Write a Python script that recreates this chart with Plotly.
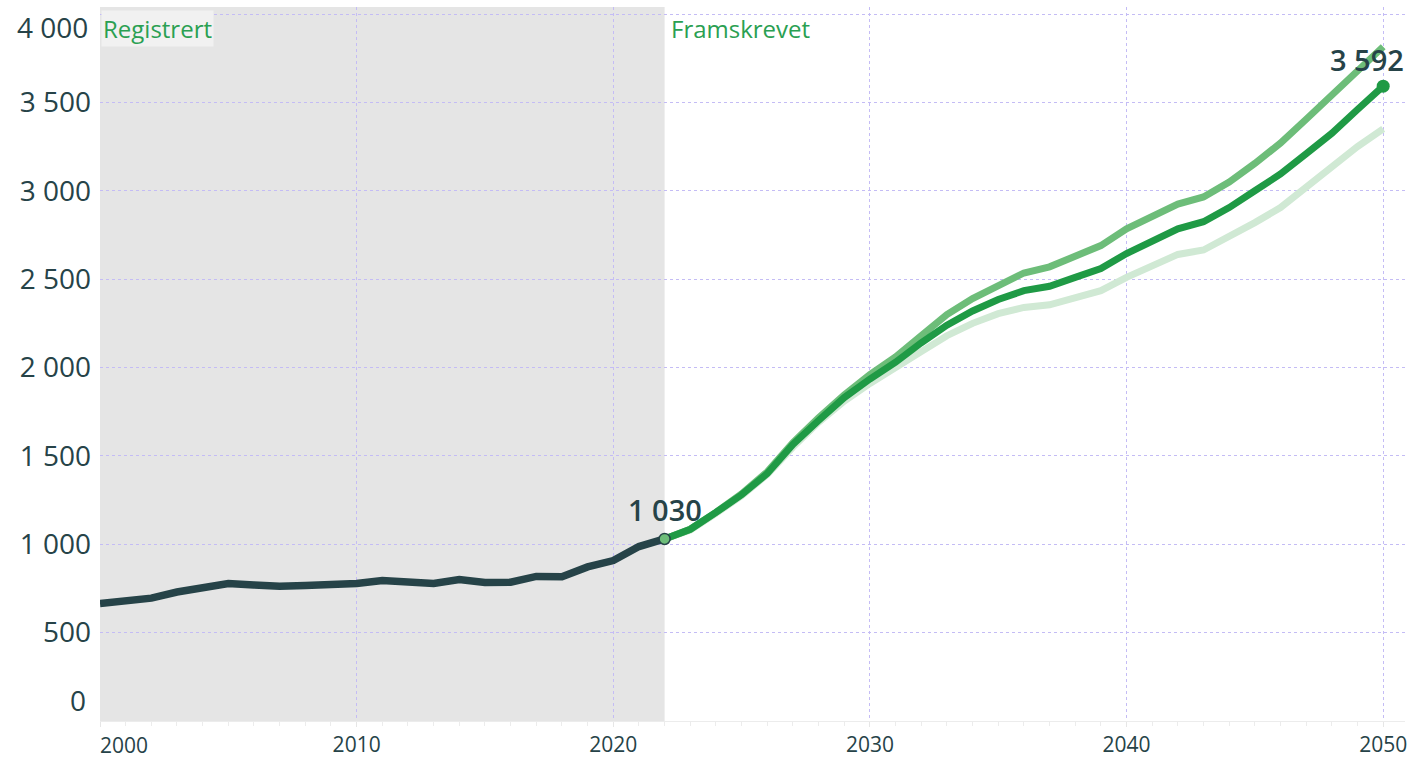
import plotly.graph_objects as go

# ---- data ----
hist_years = list(range(2000, 2023))
hist_values = [665, 685, 695, 730, 752, 778, 770, 762, 766, 770, 778, 795, 790, 778,
               800, 784, 785, 818, 816, 872, 908, 987, 1030]

proj_years = list(range(2022, 2051))
main_values = [1030, 1085, 1180, 1280, 1400, 1565, 1700, 1830, 1935, 2030, 2140, 2240,
               2320, 2385, 2435, 2460, 2510, 2560, 2645, 2720, 2785, 2825, 2905, 3000,
               3095, 3210, 3325, 3460, 3592]
high_values = [1030, 1085, 1180, 1285, 1410, 1575, 1715, 1845, 1960, 2060, 2180, 2300,
               2390, 2465, 2535, 2570, 2625, 2690, 2785, 2860, 2925, 2965, 3050, 3155,
               3270, 3405, 3545, 3685, 3815]
low_values = [1030, 1080, 1175, 1275, 1395, 1550, 1690, 1810, 1910, 1995, 2090, 2180,
              2250, 2305, 2340, 2355, 2395, 2435, 2510, 2580, 2640, 2665, 2740, 2820,
              2905, 3020, 3145, 3250, 3350]

x_ticks = [2000, 2010, 2020, 2030, 2040, 2050]
y_ticks = [0, 500, 1000, 1500, 2000, 2500, 3000, 3500, 4000]
y_labels = ["0", "500", "1 000", "1 500", "2 000", "2 500", "3 000", "3 500", "4 000"]

DARK = "#264348"
MAIN = "#1f9a45"
HIGH = "#6dbd79"
LOW = "#d0e9d4"
TXTGREEN = "#2aa052"
FONT = "Open Sans"

fig = go.Figure()

fig.add_trace(go.Scatter(x=proj_years, y=low_values, mode="lines",
                         line=dict(color=LOW, width=7), hoverinfo="skip"))
fig.add_trace(go.Scatter(x=proj_years, y=high_values, mode="lines",
                         line=dict(color=HIGH, width=7), hoverinfo="skip"))
fig.add_trace(go.Scatter(x=proj_years, y=main_values, mode="lines",
                         line=dict(color=MAIN, width=7), hoverinfo="skip"))
fig.add_trace(go.Scatter(x=hist_years, y=hist_values, mode="lines",
                         line=dict(color=DARK, width=7.5), hoverinfo="skip"))
# end markers
fig.add_trace(go.Scatter(x=[hist_years[-1]], y=[hist_values[-1]], mode="markers",
                         marker=dict(color=HIGH, size=11, line=dict(color=DARK, width=1.5)),
                         hoverinfo="skip"))
fig.add_trace(go.Scatter(x=[proj_years[-1]], y=[main_values[-1]], mode="markers",
                         marker=dict(color=MAIN, size=13), hoverinfo="skip"))

# shaded "registered" period
fig.add_shape(type="rect", xref="x", yref="paper", x0=hist_years[0] - 1, x1=hist_years[-1],
              y0=0, y1=1, fillcolor="#e5e5e5", line=dict(width=0), layer="below")

x_text = [""] + [str(v) for v in x_ticks[1:]]
y_text = [""] + y_labels[1:-1] + [""]

fig.update_layout(
    width=1409, height=760,
    margin=dict(l=100, r=4, t=7, b=39, autoexpand=False),
    paper_bgcolor="white", plot_bgcolor="white",
    showlegend=False,
    font=dict(family=FONT, color=DARK),
    xaxis=dict(range=[2000, 2050.85], tickvals=x_ticks, ticktext=x_text, automargin=False,
               showgrid=True, gridcolor="#c4bcf5", griddash="dot", gridwidth=1,
               zeroline=False, showline=True, linecolor="#ececec", linewidth=1,
               ticks="outside", ticklen=5, tickcolor="#e6e6e6",
               minor=dict(dtick=1, ticks="outside", ticklen=4, tickcolor="#ececec", showgrid=False),
               tickfont=dict(size=21, color=DARK, family=FONT)),
    yaxis=dict(range=[0, 4040], tickvals=y_ticks, ticktext=y_text, automargin=False,
               showgrid=True, gridcolor="#c4bcf5", griddash="dot", gridwidth=1,
               zeroline=False, showline=False, ticks="", ticklabelstandoff=8,
               ticklabeloverflow="allow",
               tickfont=dict(size=28, color=DARK, family=FONT)),
)

# edge tick labels shifted inward like the reference
fig.add_annotation(x=x_ticks[0], y=0, xref="x", yref="paper", text=str(x_ticks[0]),
                   showarrow=False, xanchor="left", yanchor="top", yshift=-8, xshift=-2,
                   font=dict(size=21, color=DARK, family=FONT))
fig.add_annotation(x=0, y=y_ticks[0], xref="paper", yref="y", text=y_labels[0],
                   showarrow=False, xanchor="right", yanchor="middle", xshift=-12, yshift=21,
                   font=dict(size=28, color=DARK, family=FONT))
fig.add_annotation(x=0, y=y_ticks[-1], xref="paper", yref="y", text=y_labels[-1],
                   showarrow=False, xanchor="right", yanchor="middle", xshift=-10, yshift=-13,
                   font=dict(size=28, color=DARK, family=FONT))

# period labels
fig.add_annotation(x=0, y=1, xref="paper", yref="paper", text="Registrert",
                   showarrow=False, xanchor="left", yanchor="top", xshift=1, yshift=-3,
                   bgcolor="#f1f1f1", borderpad=1,
                   font=dict(size=24, color=TXTGREEN, family=FONT))
fig.add_annotation(x=hist_years[-1], y=1, xref="x", yref="paper", text="Framskrevet",
                   showarrow=False, xanchor="left", yanchor="top", xshift=4, yshift=-3,
                   font=dict(size=24, color=TXTGREEN, family=FONT))

# value labels
fig.add_annotation(x=hist_years[-1], y=hist_values[-1], text="1 030", showarrow=False,
                   xanchor="center", yanchor="middle", yshift=29,
                   font=dict(size=29, color=DARK, family=FONT, weight=600))
fig.add_annotation(x=proj_years[-1], y=main_values[-1], text="3 592", showarrow=False,
                   xanchor="center", yanchor="middle", xshift=-16, yshift=27,
                   font=dict(size=29, color=DARK, family=FONT, weight=600))

fig.write_html("out.html", config={"displayModeBar": False},
               post_script="document.body.style.margin='0px';")
